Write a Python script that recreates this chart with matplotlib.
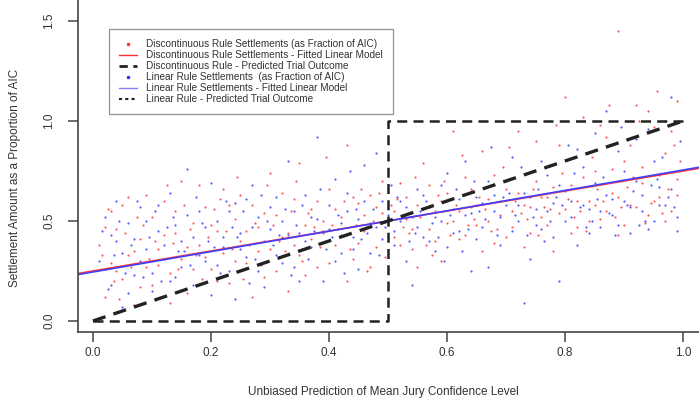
import numpy as np
import matplotlib
matplotlib.use('Agg')
import matplotlib.pyplot as plt
from matplotlib.lines import Line2D

plt.rcParams['font.family'] = ['Liberation Sans', 'DejaVu Sans']

# settlements under the discontinuous rule (x = jury confidence, y = fraction of AIC)
disc_points = [
    (0.01, 0.38), (0.02, 0.12), (0.03, 0.55), (0.03, 0.29), (0.04, 0.46), (0.05, 0.21), (0.06, 0.33),
    (0.06, 0.62), (0.07, 0.08), (0.08, 0.41), (0.09, 0.27), (0.10, 0.52), (0.10, 0.18), (0.11, 0.36),
    (0.12, 0.60), (0.13, 0.24), (0.14, 0.44), (0.15, 0.31), (0.15, 0.70), (0.16, 0.14), (0.17, 0.49),
    (0.18, 0.38), (0.19, 0.57), (0.20, 0.26), (0.21, 0.45), (0.22, 0.34), (0.22, 0.66), (0.23, 0.19),
    (0.24, 0.51), (0.25, 0.40), (0.26, 0.29), (0.27, 0.58), (0.28, 0.47), (0.29, 0.22), (0.30, 0.36),
    (0.30, 0.74), (0.31, 0.53), (0.32, 0.42), (0.33, 0.15), (0.34, 0.61), (0.35, 0.33), (0.36, 0.48),
    (0.37, 0.56), (0.38, 0.27), (0.39, 0.44), (0.40, 0.66), (0.41, 0.38), (0.42, 0.52), (0.43, 0.88),
    (0.44, 0.31), (0.45, 0.59), (0.46, 0.45), (0.47, 0.63), (0.48, 0.37), (0.49, 0.54), (0.50, 0.48),
    (0.51, 0.42), (0.52, 0.69), (0.53, 0.51), (0.54, 0.36), (0.55, 0.58), (0.56, 0.79), (0.57, 0.46),
    (0.58, 0.55), (0.59, 0.30), (0.60, 0.64), (0.61, 0.50), (0.62, 0.41), (0.63, 0.72), (0.64, 0.57),
    (0.65, 0.48), (0.66, 0.85), (0.67, 0.61), (0.68, 0.39), (0.69, 0.53), (0.70, 0.66), (0.71, 0.47),
    (0.72, 0.95), (0.73, 0.58), (0.74, 0.44), (0.75, 0.70), (0.76, 0.52), (0.77, 0.62), (0.78, 0.35),
    (0.79, 0.88), (0.80, 0.56), (0.81, 0.68), (0.82, 0.47), (0.83, 1.02), (0.84, 0.60), (0.85, 0.75),
    (0.86, 0.51), (0.87, 0.92), (0.88, 0.64), (0.89, 1.45), (0.89, 0.43), (0.90, 0.80), (0.91, 0.58),
    (0.92, 1.08), (0.93, 0.69), (0.94, 0.53), (0.95, 0.97), (0.96, 0.62), (0.97, 0.84), (0.98, 0.55),
    (0.99, 1.10), (0.99, 0.71),
    (0.02, 0.47), (0.04, 0.25), (0.05, 0.58), (0.07, 0.35), (0.08, 0.17), (0.09, 0.63), (0.11, 0.28),
    (0.12, 0.43), (0.13, 0.09), (0.14, 0.55), (0.16, 0.37), (0.17, 0.26), (0.18, 0.68), (0.19, 0.32),
    (0.20, 0.48), (0.21, 0.20), (0.23, 0.58), (0.24, 0.30), (0.25, 0.63), (0.26, 0.45), (0.27, 0.12),
    (0.28, 0.35), (0.29, 0.54), (0.31, 0.25), (0.32, 0.64), (0.33, 0.44), (0.34, 0.38), (0.35, 0.79),
    (0.36, 0.23), (0.37, 0.41), (0.38, 0.60), (0.39, 0.50), (0.40, 0.29), (0.41, 0.56), (0.42, 0.43),
    (0.43, 0.20), (0.44, 0.62), (0.45, 0.39), (0.46, 0.53), (0.47, 0.27), (0.48, 0.57), (0.49, 0.70),
    (0.51, 0.55), (0.52, 0.38), (0.53, 0.62), (0.54, 0.46), (0.55, 0.27), (0.56, 0.56), (0.57, 0.68),
    (0.58, 0.40), (0.59, 0.60), (0.60, 0.49), (0.61, 0.95), (0.62, 0.55), (0.63, 0.43), (0.64, 0.66),
    (0.65, 0.58), (0.66, 0.35), (0.67, 0.50), (0.68, 0.73), (0.69, 0.60), (0.70, 0.42), (0.71, 0.55),
    (0.72, 0.64), (0.73, 0.37), (0.74, 0.57), (0.75, 0.90), (0.76, 0.62), (0.77, 0.48), (0.78, 0.67),
    (0.79, 0.54), (0.80, 1.12), (0.81, 0.44), (0.82, 0.60), (0.83, 0.72), (0.84, 0.50), (0.85, 0.58),
    (0.86, 0.98), (0.87, 0.55), (0.88, 0.76), (0.89, 0.62), (0.90, 0.48), (0.91, 0.88), (0.92, 0.57),
    (0.93, 0.77), (0.94, 1.05), (0.95, 0.60), (0.96, 0.73), (0.97, 0.50), (0.98, 0.95), (0.99, 0.63),
    (0.015, 0.33), (0.035, 0.20), (0.055, 0.44), (0.075, 0.52), (0.095, 0.31), (0.115, 0.12), (0.135, 0.39),
    (0.155, 0.58), (0.175, 0.33), (0.195, 0.42), (0.215, 0.61), (0.235, 0.36), (0.255, 0.21), (0.275, 0.49),
    (0.295, 0.68), (0.315, 0.40), (0.335, 0.55), (0.355, 0.30), (0.375, 0.47), (0.395, 0.82), (0.415, 0.46),
    (0.435, 0.36), (0.455, 0.66), (0.475, 0.50), (0.495, 0.32), (0.515, 0.61), (0.535, 0.44), (0.555, 0.52),
    (0.575, 0.33), (0.595, 0.70), (0.615, 0.58), (0.635, 0.48), (0.655, 0.62), (0.675, 0.45), (0.695, 0.77),
    (0.715, 0.60), (0.735, 0.51), (0.755, 0.43), (0.775, 0.56), (0.795, 0.74), (0.815, 0.52), (0.835, 0.45),
    (0.855, 0.66), (0.875, 1.08), (0.895, 0.57), (0.915, 0.72), (0.935, 0.49), (0.955, 1.15), (0.975, 0.66),
    (0.995, 0.80),
    (0.025, 0.56), (0.045, 0.11), (0.065, 0.27), (0.085, 0.48), (0.105, 0.40), (0.125, 0.68), (0.145, 0.26),
    (0.165, 0.46), (0.185, 0.21), (0.205, 0.56), (0.225, 0.45), (0.245, 0.72), (0.265, 0.38), (0.285, 0.28),
    (0.305, 0.48), (0.325, 0.35), (0.345, 0.70), (0.365, 0.54), (0.385, 0.37), (0.405, 0.48), (0.425, 0.60),
    (0.445, 0.48), (0.465, 0.25), (0.485, 0.64), (0.505, 0.58), (0.525, 0.47), (0.545, 0.72), (0.565, 0.38),
    (0.585, 0.63), (0.605, 0.43), (0.625, 0.83), (0.645, 0.51), (0.665, 0.56), (0.685, 0.46), (0.705, 0.87),
    (0.725, 0.54), (0.745, 0.66), (0.765, 0.57), (0.785, 0.98), (0.805, 0.61), (0.825, 0.55), (0.845, 0.82),
    (0.865, 0.60), (0.885, 0.52), (0.905, 0.67), (0.925, 1.00), (0.945, 0.59), (0.965, 0.54), (0.985, 0.88),
]

# settlements under the linear rule
lin_points = [
    (0.01, 0.30), (0.02, 0.52), (0.03, 0.18), (0.04, 0.40), (0.05, 0.07), (0.05, 0.34), (0.06, 0.49),
    (0.07, 0.23), (0.08, 0.57), (0.09, 0.36), (0.10, 0.15), (0.11, 0.45), (0.12, 0.31), (0.13, 0.64),
    (0.14, 0.22), (0.15, 0.40), (0.16, 0.53), (0.17, 0.18), (0.18, 0.33), (0.19, 0.47), (0.20, 0.69),
    (0.21, 0.28), (0.22, 0.42), (0.23, 0.55), (0.24, 0.11), (0.25, 0.36), (0.26, 0.61), (0.27, 0.47),
    (0.28, 0.25), (0.29, 0.40), (0.30, 0.57), (0.31, 0.33), (0.32, 0.50), (0.33, 0.80), (0.34, 0.27),
    (0.35, 0.44), (0.36, 0.63), (0.37, 0.37), (0.38, 0.51), (0.39, 0.20), (0.40, 0.46), (0.41, 0.71),
    (0.42, 0.34), (0.43, 0.55), (0.44, 0.42), (0.45, 0.26), (0.46, 0.60), (0.47, 0.49), (0.48, 0.84),
    (0.49, 0.41), (0.50, 0.53), (0.51, 0.45), (0.52, 0.60), (0.53, 0.30), (0.54, 0.52), (0.55, 0.66),
    (0.56, 0.42), (0.57, 0.57), (0.58, 0.35), (0.59, 0.50), (0.60, 0.74), (0.61, 0.44), (0.62, 0.61),
    (0.63, 0.53), (0.64, 0.25), (0.65, 0.62), (0.66, 0.47), (0.67, 0.70), (0.68, 0.55), (0.69, 0.38),
    (0.70, 0.58), (0.71, 0.82), (0.72, 0.50), (0.73, 0.64), (0.74, 0.31), (0.75, 0.56), (0.76, 0.46),
    (0.77, 0.73), (0.78, 0.59), (0.79, 0.20), (0.80, 0.65), (0.81, 0.52), (0.82, 0.86), (0.83, 0.58),
    (0.84, 0.44), (0.85, 0.69), (0.86, 0.55), (0.87, 1.05), (0.88, 0.61), (0.89, 0.48), (0.90, 0.75),
    (0.91, 0.57), (0.92, 0.91), (0.93, 0.63), (0.94, 0.46), (0.95, 0.80), (0.96, 0.58), (0.97, 1.00),
    (0.98, 0.66), (0.99, 0.52),
    (0.02, 0.26), (0.03, 0.43), (0.04, 0.60), (0.06, 0.14), (0.07, 0.41), (0.08, 0.30), (0.09, 0.50),
    (0.10, 0.24), (0.11, 0.58), (0.12, 0.38), (0.13, 0.20), (0.14, 0.48), (0.15, 0.27), (0.16, 0.76),
    (0.17, 0.42), (0.18, 0.55), (0.19, 0.30), (0.20, 0.13), (0.21, 0.50), (0.22, 0.37), (0.23, 0.25),
    (0.24, 0.59), (0.25, 0.44), (0.26, 0.32), (0.27, 0.68), (0.28, 0.52), (0.29, 0.17), (0.30, 0.46),
    (0.31, 0.62), (0.32, 0.29), (0.33, 0.43), (0.34, 0.55), (0.35, 0.20), (0.36, 0.40), (0.37, 0.52),
    (0.38, 0.92), (0.39, 0.45), (0.40, 0.58), (0.41, 0.30), (0.42, 0.49), (0.43, 0.64), (0.44, 0.36),
    (0.45, 0.51), (0.46, 0.78), (0.47, 0.34), (0.48, 0.47), (0.49, 0.60), (0.51, 0.38), (0.52, 0.50),
    (0.53, 0.57), (0.54, 0.18), (0.55, 0.47), (0.56, 0.63), (0.57, 0.40), (0.58, 0.52), (0.59, 0.68),
    (0.60, 0.37), (0.61, 0.56), (0.62, 0.45), (0.63, 0.80), (0.64, 0.54), (0.65, 0.41), (0.66, 0.59),
    (0.67, 0.27), (0.68, 0.63), (0.69, 0.52), (0.70, 0.70), (0.71, 0.45), (0.72, 0.58), (0.73, 0.09),
    (0.74, 0.62), (0.75, 0.48), (0.76, 0.80), (0.77, 0.55), (0.78, 0.42), (0.79, 0.68), (0.80, 0.50),
    (0.81, 0.60), (0.82, 0.38), (0.83, 0.77), (0.84, 0.56), (0.85, 0.94), (0.86, 0.47), (0.87, 0.63),
    (0.88, 0.53), (0.89, 0.85), (0.90, 0.60), (0.91, 0.44), (0.92, 0.70), (0.93, 0.55), (0.94, 0.96),
    (0.95, 0.50), (0.96, 0.67), (0.97, 0.58), (0.98, 1.12), (0.99, 0.45),
    (0.015, 0.45), (0.035, 0.33), (0.055, 0.24), (0.075, 0.60), (0.095, 0.42), (0.115, 0.20), (0.135, 0.52),
    (0.155, 0.35), (0.175, 0.62), (0.195, 0.40), (0.215, 0.24), (0.235, 0.47), (0.255, 0.55), (0.275, 0.31),
    (0.295, 0.50), (0.315, 0.43), (0.335, 0.23), (0.355, 0.58), (0.375, 0.45), (0.395, 0.36), (0.415, 0.53),
    (0.435, 0.75), (0.455, 0.41), (0.475, 0.56), (0.495, 0.47), (0.515, 0.62), (0.535, 0.40), (0.555, 0.55),
    (0.575, 0.49), (0.595, 0.30), (0.615, 0.66), (0.635, 0.46), (0.655, 0.55), (0.675, 0.87), (0.695, 0.62),
    (0.715, 0.53), (0.735, 0.43), (0.755, 0.66), (0.775, 0.50), (0.795, 0.58), (0.815, 0.74), (0.835, 0.47),
    (0.855, 0.61), (0.875, 0.54), (0.895, 0.97), (0.915, 0.65), (0.935, 0.50), (0.955, 0.71), (0.975, 0.62),
    (0.995, 0.90),
    (0.025, 0.16), (0.045, 0.50), (0.065, 0.38), (0.085, 0.22), (0.105, 0.55), (0.125, 0.47), (0.145, 0.35),
    (0.165, 0.28), (0.185, 0.49), (0.205, 0.37), (0.225, 0.60), (0.245, 0.42), (0.265, 0.19), (0.285, 0.63),
    (0.305, 0.38), (0.325, 0.56), (0.345, 0.48), (0.365, 0.31), (0.385, 0.66), (0.405, 0.42), (0.425, 0.24),
    (0.445, 0.56), (0.465, 0.44), (0.485, 0.33), (0.505, 0.68), (0.525, 0.53), (0.545, 0.44), (0.565, 0.60),
    (0.585, 0.42), (0.605, 0.53), (0.625, 0.35), (0.645, 0.70), (0.665, 0.51), (0.685, 0.43), (0.705, 0.64),
    (0.725, 0.77), (0.745, 0.52), (0.765, 0.40), (0.785, 0.62), (0.805, 0.88), (0.825, 0.57), (0.845, 0.50),
    (0.865, 0.72), (0.885, 0.43), (0.905, 0.58), (0.925, 0.48), (0.945, 0.68), (0.965, 0.82), (0.985, 0.57),
]

# fitted linear models (intercept, slope)
disc_fit = (0.25, 0.50)
lin_fit = (0.245, 0.51)

# predicted trial outcomes
disc_pred_x = [0.0, 0.5, 0.5, 1.0]
disc_pred_y = [0.0, 0.0, 1.0, 1.0]
lin_pred_x = [0.0, 1.0]
lin_pred_y = [0.0, 1.0]

legend_labels = [
    'Discontinuous Rule Settlements (as Fraction of AIC)',
    'Discontinuous Rule Settlements - Fitted Linear Model',
    'Discontinuous Rule - Predicted Trial Outcome',
    'Linear Rule Settlements  (as Fraction of AIC)',
    'Linear Rule Settlements - Fitted Linear Model',
    'Linear Rule - Predicted Trial Outcome',
]

xticks = [0.0, 0.2, 0.4, 0.6, 0.8, 1.0]
yticks = [0.0, 0.5, 1.0, 1.5]

disc = np.array(disc_points)
lin = np.array(lin_points)

fig = plt.figure(figsize=(6.99, 4.04), dpi=100)
ax = fig.add_axes([0.1109, 0.1782, 0.8891, 0.8218])

ax.scatter(disc[:, 0], disc[:, 1], s=2.5, c='#ff2020', alpha=0.75, linewidths=0)
ax.scatter(lin[:, 0], lin[:, 1], s=2.5, c='#2020ff', alpha=0.75, linewidths=0)

ax.axline((0, disc_fit[0]), slope=disc_fit[1], color='#ff3030', lw=1.2)
ax.axline((0, lin_fit[0]), slope=lin_fit[1], color='#4040ff', lw=1.2)

ax.plot(disc_pred_x, disc_pred_y, color='#222222', lw=1.8, dashes=(4, 2.5))
ax.plot(lin_pred_x, lin_pred_y, color='#222222', lw=2.4, dashes=(4, 2.5))

ax.set_xlim(-0.026, 1.027)
ax.set_ylim(-0.055, 1.605)
ax.spines['top'].set_visible(False)
ax.spines['right'].set_visible(False)
for s in ['left', 'bottom']:
    ax.spines[s].set_color('#444444')
    ax.spines[s].set_linewidth(1.2)

ax.set_xticks(xticks)
ax.set_xticklabels([f'{t:.1f}' for t in xticks])
ax.set_yticks(yticks)
ax.set_yticklabels([f'{t:.1f}' for t in yticks], rotation=90, va='center')
ax.tick_params(axis='both', length=7, width=1.1, color='#444444', labelsize=8.5, labelcolor='#333333')
ax.tick_params(axis='x', pad=4)
ax.tick_params(axis='y', pad=9)

fig.text(383 / 699, 1 - 392 / 404, 'Unbiased Prediction of Mean Jury Confidence Level',
         ha='center', va='center', fontsize=8.5, color='#333333')
fig.text(15 / 699, 1 - 178 / 404, 'Settlement Amount as a Proportion of AIC',
         ha='center', va='center', rotation=90, fontsize=8.5, color='#333333')

handles = [
    Line2D([], [], ls='none', marker='.', markersize=3, color='#ff3030'),
    Line2D([], [], color='#ff3030', lw=1),
    Line2D([], [], color='#222222', lw=2, dashes=(3, 2)),
    Line2D([], [], ls='none', marker='.', markersize=3, color='#3030ff'),
    Line2D([], [], color='#8080ff', lw=1),
    Line2D([], [], color='#222222', lw=1.5, dashes=(1.5, 1.5)),
]
leg = fig.legend(handles, legend_labels, loc='upper left', bbox_to_anchor=(109 / 699, 1 - 29 / 404),
                 bbox_transform=fig.transFigure, fontsize=7.2, frameon=True, fancybox=False,
                 borderaxespad=0, labelspacing=0.1, handlelength=1.8, handletextpad=0.9,
                 borderpad=1.0)
leg.get_frame().set_edgecolor('#777777')
leg.get_frame().set_linewidth(0.9)
for t in leg.get_texts():
    t.set_color('#333333')

fig.savefig('out.png', dpi=100)
